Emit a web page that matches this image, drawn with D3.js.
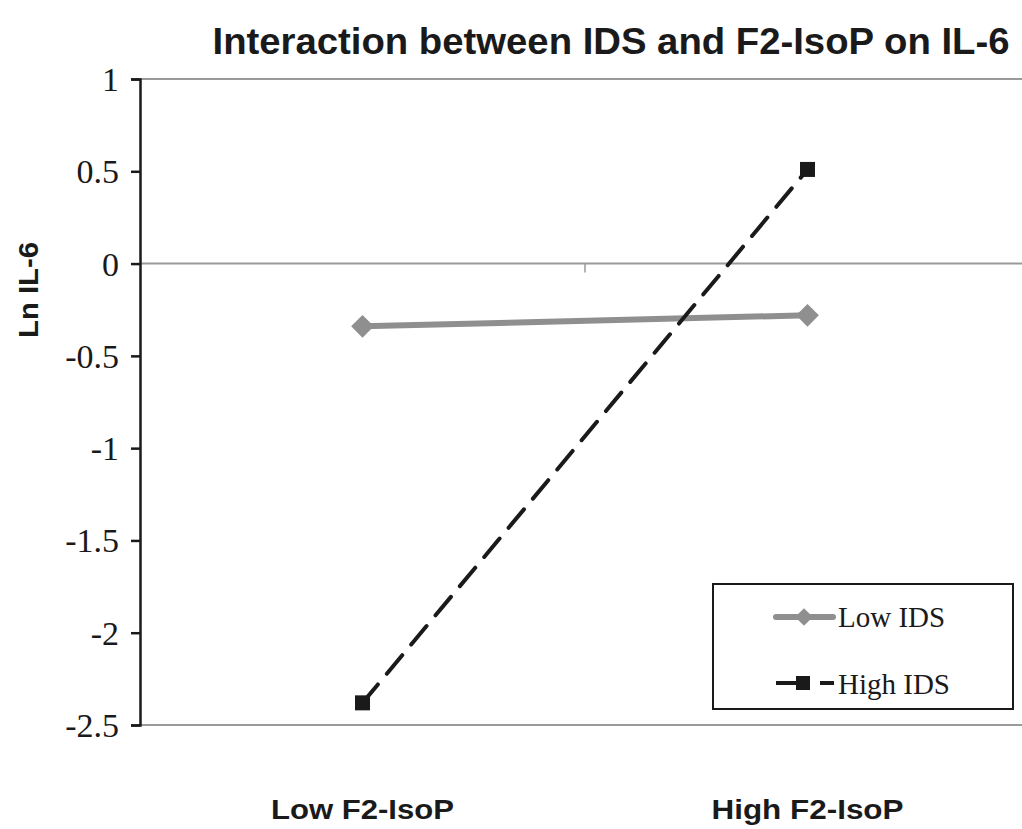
<!DOCTYPE html>
<html>
<head>
<meta charset="utf-8">
<script src="https://cdn.jsdelivr.net/npm/d3@7"></script>
<style>
  body { margin: 0; background: #fff; }
  .sans { font-family: "Liberation Sans", Arial, Helvetica, sans-serif; font-weight: bold; }
  .serif { font-family: "Liberation Serif", "Times New Roman", serif; }
</style>
</head>
<body>
<script>
// valeurs
var categories = ["Low F2-IsoP", "High F2-IsoP"];
var lowIDS = [-0.34, -0.28];
var highIDS = [-2.38, 0.51];
var yTicks = [1, 0.5, 0, -0.5, -1, -1.5, -2, -2.5];
var seriesNames = ["Low IDS", "High IDS"];

var larg = 1022, haut = 829;
var gauche = 140, droite = 1030, haut0 = 79, bas = 725;

var svg = d3.select("body").append("svg")
  .attr("width", larg)
  .attr("height", haut);

var x = d3.scaleBand().domain(categories).range([gauche, droite]);
var y = d3.scaleLinear().domain([-2.5, 1]).range([bas, haut0]);
var cx = function(c) { return x(c) + x.bandwidth() / 2; };

// lignes grises horizontales (haut, zéro, bas)
svg.selectAll("line.grille")
  .data([1, 0, -2.5])
  .enter().append("line")
  .attr("class", "grille")
  .attr("x1", gauche).attr("x2", larg)
  .attr("y1", function(d) { return y(d); })
  .attr("y2", function(d) { return y(d); })
  .attr("stroke", "#9a9a9a").attr("stroke-width", 2);

// petite graduation entre les catégories, sur la ligne zéro
svg.append("line")
  .attr("x1", x(categories[1])).attr("x2", x(categories[1]))
  .attr("y1", y(0)).attr("y2", y(0) + 9)
  .attr("stroke", "#9a9a9a").attr("stroke-width", 1.5);

// axe Y
var axeY = d3.axisLeft(y).tickValues(yTicks).tickSize(9).tickPadding(12)
  .tickFormat(function(d) { return String(d); });
var gY = svg.append("g").attr("transform", "translate(" + gauche + ",0)").call(axeY);
gY.attr("font-family", null).attr("font-size", null);
gY.select(".domain").attr("stroke", "#1a1a1a").attr("stroke-width", 2.5);
gY.selectAll(".tick line").attr("stroke", "#1a1a1a").attr("stroke-width", 2.5);
gY.selectAll(".tick text")
  .attr("class", "serif")
  .style("font-size", "34px")
  .attr("dy", "0.34em")
  .attr("fill", "#1a1a1a");

// série Low IDS
var ptsLow = categories.map(function(c, i) { return [cx(c), y(lowIDS[i])]; });
svg.append("path")
  .attr("d", d3.line()(ptsLow))
  .attr("fill", "none").attr("stroke", "#8f8f8f").attr("stroke-width", 6);
svg.selectAll("path.losange")
  .data(ptsLow).enter().append("path")
  .attr("class", "losange")
  .attr("d", d3.symbol(d3.symbolDiamond2, 330)())
  .attr("transform", function(d) { return "translate(" + d[0] + "," + d[1] + ")"; })
  .attr("fill", "#8f8f8f");

// série High IDS
var ptsHigh = categories.map(function(c, i) { return [cx(c), y(highIDS[i])]; });
svg.append("path")
  .attr("d", d3.line()(ptsHigh))
  .attr("fill", "none").attr("stroke", "#1a1a1a").attr("stroke-width", 4)
  .attr("stroke-dasharray", "24,14").attr("stroke-linecap", "round");
svg.selectAll("rect.carre")
  .data(ptsHigh).enter().append("rect")
  .attr("class", "carre")
  .attr("x", function(d) { return d[0] - 7.5; })
  .attr("y", function(d) { return d[1] - 7.5; })
  .attr("width", 15).attr("height", 15)
  .attr("fill", "#1a1a1a");

// étiquettes des catégories
svg.selectAll("text.cat")
  .data(categories).enter().append("text")
  .attr("class", "cat sans")
  .attr("x", function(d) { return cx(d); })
  .attr("y", 819)
  .attr("text-anchor", "middle")
  .attr("font-size", 28)
  .attr("textLength", function(d, i) { return i === 0 ? 183 : 192; })
  .attr("lengthAdjust", "spacingAndGlyphs")
  .attr("fill", "#1a1a1a")
  .text(function(d) { return d; });

// titre
svg.append("text")
  .attr("class", "sans")
  .attr("x", 611).attr("y", 54)
  .attr("text-anchor", "middle")
  .attr("font-size", 37)
  .attr("textLength", 797)
  .attr("lengthAdjust", "spacingAndGlyphs")
  .attr("fill", "#1a1a1a")
  .text("Interaction between IDS and F2-IsoP on IL-6");

// titre axe Y
svg.append("text")
  .attr("class", "sans")
  .attr("transform", "translate(38,290) rotate(-90)")
  .attr("text-anchor", "middle")
  .attr("font-size", 28)
  .attr("textLength", 96)
  .attr("lengthAdjust", "spacingAndGlyphs")
  .attr("fill", "#1a1a1a")
  .text("Ln IL-6");

// légende
var leg = svg.append("g");
leg.append("rect")
  .attr("x", 713).attr("y", 584).attr("width", 300).attr("height", 125)
  .attr("fill", "#fff").attr("stroke", "#1a1a1a").attr("stroke-width", 2);

leg.append("line")
  .attr("x1", 776).attr("x2", 833).attr("y1", 617).attr("y2", 617)
  .attr("stroke", "#8f8f8f").attr("stroke-width", 6).attr("stroke-linecap", "round");
leg.append("path")
  .attr("d", d3.symbol(d3.symbolDiamond2, 200)())
  .attr("transform", "translate(804,617)")
  .attr("fill", "#8f8f8f");

leg.append("line")
  .attr("x1", 776).attr("x2", 834).attr("y1", 683).attr("y2", 683)
  .attr("stroke", "#1a1a1a").attr("stroke-width", 4)
  .attr("stroke-dasharray", "34,10,20");
leg.append("rect")
  .attr("x", 796).attr("y", 676).attr("width", 14).attr("height", 14)
  .attr("fill", "#1a1a1a");

leg.selectAll("text")
  .data(seriesNames).enter().append("text")
  .attr("class", "serif")
  .attr("x", 838)
  .attr("y", function(d, i) { return 627 + i * 67; })
  .attr("font-size", 29)
  .attr("fill", "#1a1a1a")
  .text(function(d) { return d; });
</script>
</body>
</html>
